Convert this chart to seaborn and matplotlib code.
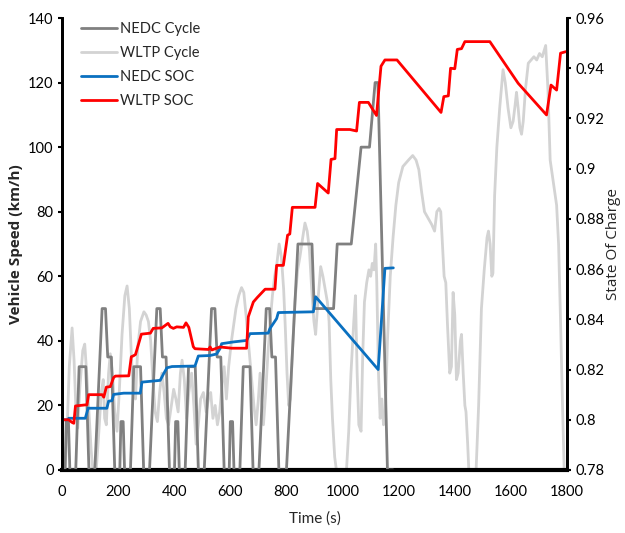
import matplotlib
matplotlib.use("Agg")
import matplotlib.pyplot as plt
import seaborn as sns
import pandas as pd

# ---------------- data ----------------
# NEDC speed profile (s, km/h)
nedc_t = [0, 11, 15, 23, 28, 49, 61, 85, 96, 117, 143, 155, 163, 176, 188,
          195, 206, 210, 218, 223, 244, 256, 280, 291, 312, 338, 350, 358, 371, 383,
          390, 401, 405, 413, 418, 439, 451, 475, 486, 507, 533, 545, 553, 566, 578,
          585, 596, 600, 608, 613, 634, 646, 670, 681, 702, 728, 740, 748, 761, 773,
          780, 800, 841, 891, 899, 968, 981, 1031, 1066, 1096, 1116, 1126, 1160, 1180]
nedc_v = [0, 0, 15, 15, 0, 0, 32, 32, 0, 0, 50, 50, 35, 35, 0,
          0, 0, 15, 15, 0, 0, 32, 32, 0, 0, 50, 50, 35, 35, 0,
          0, 0, 15, 15, 0, 0, 32, 32, 0, 0, 50, 50, 35, 35, 0,
          0, 0, 15, 15, 0, 0, 32, 32, 0, 0, 50, 50, 35, 35, 0,
          0, 0, 70, 70, 50, 50, 70, 70, 100, 100, 120, 120, 0, 0]

# WLTP speed profile (s, km/h)
wltp_t = [0, 11, 18, 26, 36, 43, 50, 56, 64, 74, 81, 88, 96, 104, 110, 122, 130, 140, 147, 152,
          158, 166, 172, 180, 188, 196, 204, 214, 224, 232, 240, 247, 254, 262, 270, 280, 292, 300,
          308, 316, 324, 332, 340, 348, 356, 364, 372, 380, 390, 398, 406, 414, 422, 428, 436, 444,
          452, 462, 470, 478, 486, 494, 504, 514, 522, 530, 538, 546, 554, 562, 570, 578, 586, 594,
          604, 612, 620, 630, 640, 648, 656, 664, 670, 676, 684, 692, 700, 706, 712, 718, 726, 734,
          742, 750, 758, 766, 774, 782, 790, 796, 802, 808, 814, 822, 830, 840, 848, 858, 866, 874,
          882, 890, 898, 904, 912, 922, 930, 938, 946, 952, 958, 964, 972, 978, 1014, 1022, 1030,
          1040, 1046, 1052, 1058, 1066, 1072, 1078, 1086, 1094, 1100, 1106, 1112, 1118, 1122, 1128,
          1134, 1140, 1146, 1152, 1160, 1170, 1180, 1190, 1200, 1215, 1235, 1250, 1262, 1272, 1282,
          1292, 1305, 1318, 1328, 1336, 1344, 1350, 1356, 1362, 1368, 1374, 1382, 1388, 1394, 1400,
          1406, 1412, 1420, 1424, 1430, 1436, 1440, 1446, 1450, 1476, 1485, 1495, 1505, 1515, 1520,
          1526, 1532, 1536, 1542, 1550, 1560, 1572, 1580, 1590, 1600, 1608, 1615, 1620, 1626, 1632,
          1638, 1644, 1652, 1662, 1672, 1682, 1692, 1702, 1712, 1724, 1732, 1740, 1750, 1763, 1770,
          1777, 1784, 1790, 1800]
wltp_v = [0, 0, 12, 32, 44, 34, 18, 13, 26, 37, 39, 30, 18, 6, 0, 0, 10, 24, 28, 16,
          14, 30, 36, 30, 18, 12, 24, 42, 54, 57, 50, 36, 24, 22, 38, 46, 49, 48,
          46, 40, 28, 18, 15, 24, 30, 24, 16, 14, 20, 25, 22, 18, 30, 34, 28, 16,
          24, 30, 20, 8, 14, 22, 24, 18, 22, 24, 16, 20, 14, 18, 26, 32, 22, 32,
          40, 45, 50, 54, 56.5, 55, 48, 40, 34, 28, 20, 14, 22, 30, 20, 14, 24, 36,
          46, 54, 60, 64, 70, 66, 56, 44, 30, 20, 22, 38, 52, 62, 66, 72, 76.5, 74,
          68, 56, 46, 42, 52, 63, 60, 56, 52, 46, 28, 16, 4, 0, 0, 12, 30,
          46, 54, 30, 14, 12, 36, 52, 58, 62, 60, 64, 62, 70, 58, 30,
          16, 22, 14, 16, 40, 60, 72, 82, 89, 94, 96, 97.4, 96, 93, 86,
          80, 78, 76, 74, 80, 81, 80, 70, 60, 58, 45, 30, 32, 55, 48,
          28, 30, 40, 42, 30, 20, 18, 8, 0, 0, 20, 50, 62, 72, 74,
          70, 60, 61, 85, 100, 112, 124, 120, 112, 106, 108, 113, 117, 112, 106,
          104, 108, 118, 126, 127, 128, 127, 129, 128, 131.5, 118, 96, 90, 82, 70,
          46, 20, 0, 0]

# NEDC state of charge
nedc_soc_t = [0, 20, 24, 83, 93, 160, 166, 178, 184, 220, 279, 285, 350, 362, 374, 392, 474,
              486, 528, 551, 563, 569, 611, 658, 670, 735, 741, 765, 771, 896, 904, 1127,
              1151, 1181]
nedc_soc = [0.800, 0.800, 0.8006, 0.8006, 0.8046, 0.8046, 0.8074, 0.8076, 0.8101, 0.8106,
            0.8106, 0.8150, 0.8157, 0.8183, 0.8207, 0.8212, 0.8214, 0.8254, 0.8256, 0.8262,
            0.8283, 0.8303, 0.8310, 0.8316, 0.8343, 0.8345, 0.8363, 0.8403, 0.8427, 0.8430,
            0.8490, 0.8200, 0.8603, 0.8605]

# WLTP state of charge
wltp_soc_t = [0, 24, 35, 42, 48, 89, 95, 143, 149, 158, 172, 184, 190, 238, 247, 255, 262,
              283, 315, 325, 356, 378, 386, 397, 409, 433, 442, 452, 468, 474, 522, 528, 534,
              563, 605, 658, 664, 682, 696, 724, 759, 765, 789, 804, 812, 821, 902, 911, 949,
              959, 973, 979, 1026, 1050, 1060, 1092, 1121, 1137, 1151, 1194, 1351, 1361, 1377,
              1385, 1400, 1409, 1424, 1436, 1525, 1626, 1727, 1743, 1763, 1777, 1796]
wltp_soc = [0.800, 0.800, 0.799, 0.7986, 0.8055, 0.806, 0.810, 0.810, 0.809, 0.813, 0.8132,
            0.8168, 0.8174, 0.8175, 0.8251, 0.8255, 0.826, 0.8341, 0.8345, 0.8364, 0.8366,
            0.8384, 0.837, 0.8364, 0.837, 0.8368, 0.8386, 0.8368, 0.8291, 0.8283, 0.8280,
            0.829, 0.8278, 0.829, 0.8285, 0.8285, 0.8410, 0.8469, 0.8487, 0.852, 0.852,
            0.8615, 0.8615, 0.8735, 0.874, 0.8846, 0.8846, 0.8941, 0.8903, 0.9037, 0.904,
            0.9156, 0.9156, 0.9150, 0.9264, 0.9264, 0.9212, 0.9408, 0.9433, 0.9433, 0.9224,
            0.9287, 0.929, 0.9400, 0.9398, 0.9475, 0.9478, 0.9506, 0.9506, 0.934, 0.9214,
            0.9333, 0.9313, 0.946, 0.9466]

x_ticks = [0, 200, 400, 600, 800, 1000, 1200, 1400, 1600, 1800]
y_ticks = [0, 20, 40, 60, 80, 100, 120, 140]
soc_ticks = [0.78, 0.80, 0.82, 0.84, 0.86, 0.88, 0.90, 0.92, 0.94, 0.96]
soc_labels = ["0.78", "0.8", "0.82", "0.84", "0.86", "0.88", "0.9", "0.92", "0.94", "0.96"]

# ---------------- plot ----------------
sns.set_style("white")
plt.rcParams["font.family"] = ["Lato", "DejaVu Sans"]

fig = plt.figure(figsize=(6.25, 5.33), dpi=100)
ax = fig.add_axes([0.0992, 0.1182, 0.808, 0.848])
ax2 = ax.twinx()

df_n = pd.DataFrame({"t": nedc_t, "v": nedc_v})
df_w = pd.DataFrame({"t": wltp_t, "v": wltp_v})
df_ns = pd.DataFrame({"t": nedc_soc_t, "s": nedc_soc})
df_ws = pd.DataFrame({"t": wltp_soc_t, "s": wltp_soc})

c_nedc, c_wltp, c_nsoc, c_wsoc = "#808080", "#d3d3d3", "#0a70c0", "#ff0000"

sns.lineplot(data=df_w, x="t", y="v", ax=ax, color=c_wltp, lw=2.0, sort=False,
             label="WLTP Cycle", legend=False, zorder=2)
sns.lineplot(data=df_n, x="t", y="v", ax=ax, color=c_nedc, lw=2.0, sort=False,
             label="NEDC Cycle", legend=False, zorder=3)
sns.lineplot(data=df_ns, x="t", y="s", ax=ax2, color=c_nsoc, lw=2.0, sort=False,
             label="NEDC SOC", legend=False)
sns.lineplot(data=df_ws, x="t", y="s", ax=ax2, color=c_wsoc, lw=2.0, sort=False,
             label="WLTP SOC", legend=False)

ax.set_xlim(0, 1800)
ax.set_ylim(0, 140)
ax2.set_ylim(0.78, 0.96)
ax.set_xticks(x_ticks)
ax.set_yticks(y_ticks)
ax2.set_yticks(soc_ticks)
ax2.set_yticklabels(soc_labels)

ax.set_xlabel("Time (s)", fontsize=11, labelpad=9)
ax.set_ylabel("Vehicle Speed (km/h)", fontsize=11, fontweight="bold",
              family=["Open Sans", "DejaVu Sans"], labelpad=4)
ax2.set_ylabel("State Of Charge", fontsize=11, family=["Open Sans", "DejaVu Sans"],
               labelpad=1)
ax2.set_xlabel("")

for a in (ax, ax2):
    a.tick_params(axis="both", labelsize=10.5, direction="out", length=3, width=1.5,
                  colors="black", pad=3)
    for s in a.spines.values():
        s.set_linewidth(2)
        s.set_color("black")
    a.spines["top"].set_visible(False)
ax.tick_params(axis="x", length=0, pad=11)
ax.spines["bottom"].set_linewidth(3)

h1, l1 = ax.get_legend_handles_labels()
h2, l2 = ax2.get_legend_handles_labels()
handles = [h1[1], h1[0], h2[0], h2[1]]
labels = [l1[1], l1[0], l2[0], l2[1]]
ax2.legend(handles, labels, loc="upper left", bbox_to_anchor=(0.02, 1.01), frameon=False,
           fontsize=10.5, handlelength=2.5, handletextpad=0.2, labelspacing=0.68,
           borderaxespad=0.2)

fig.savefig("out.png", dpi=100)
